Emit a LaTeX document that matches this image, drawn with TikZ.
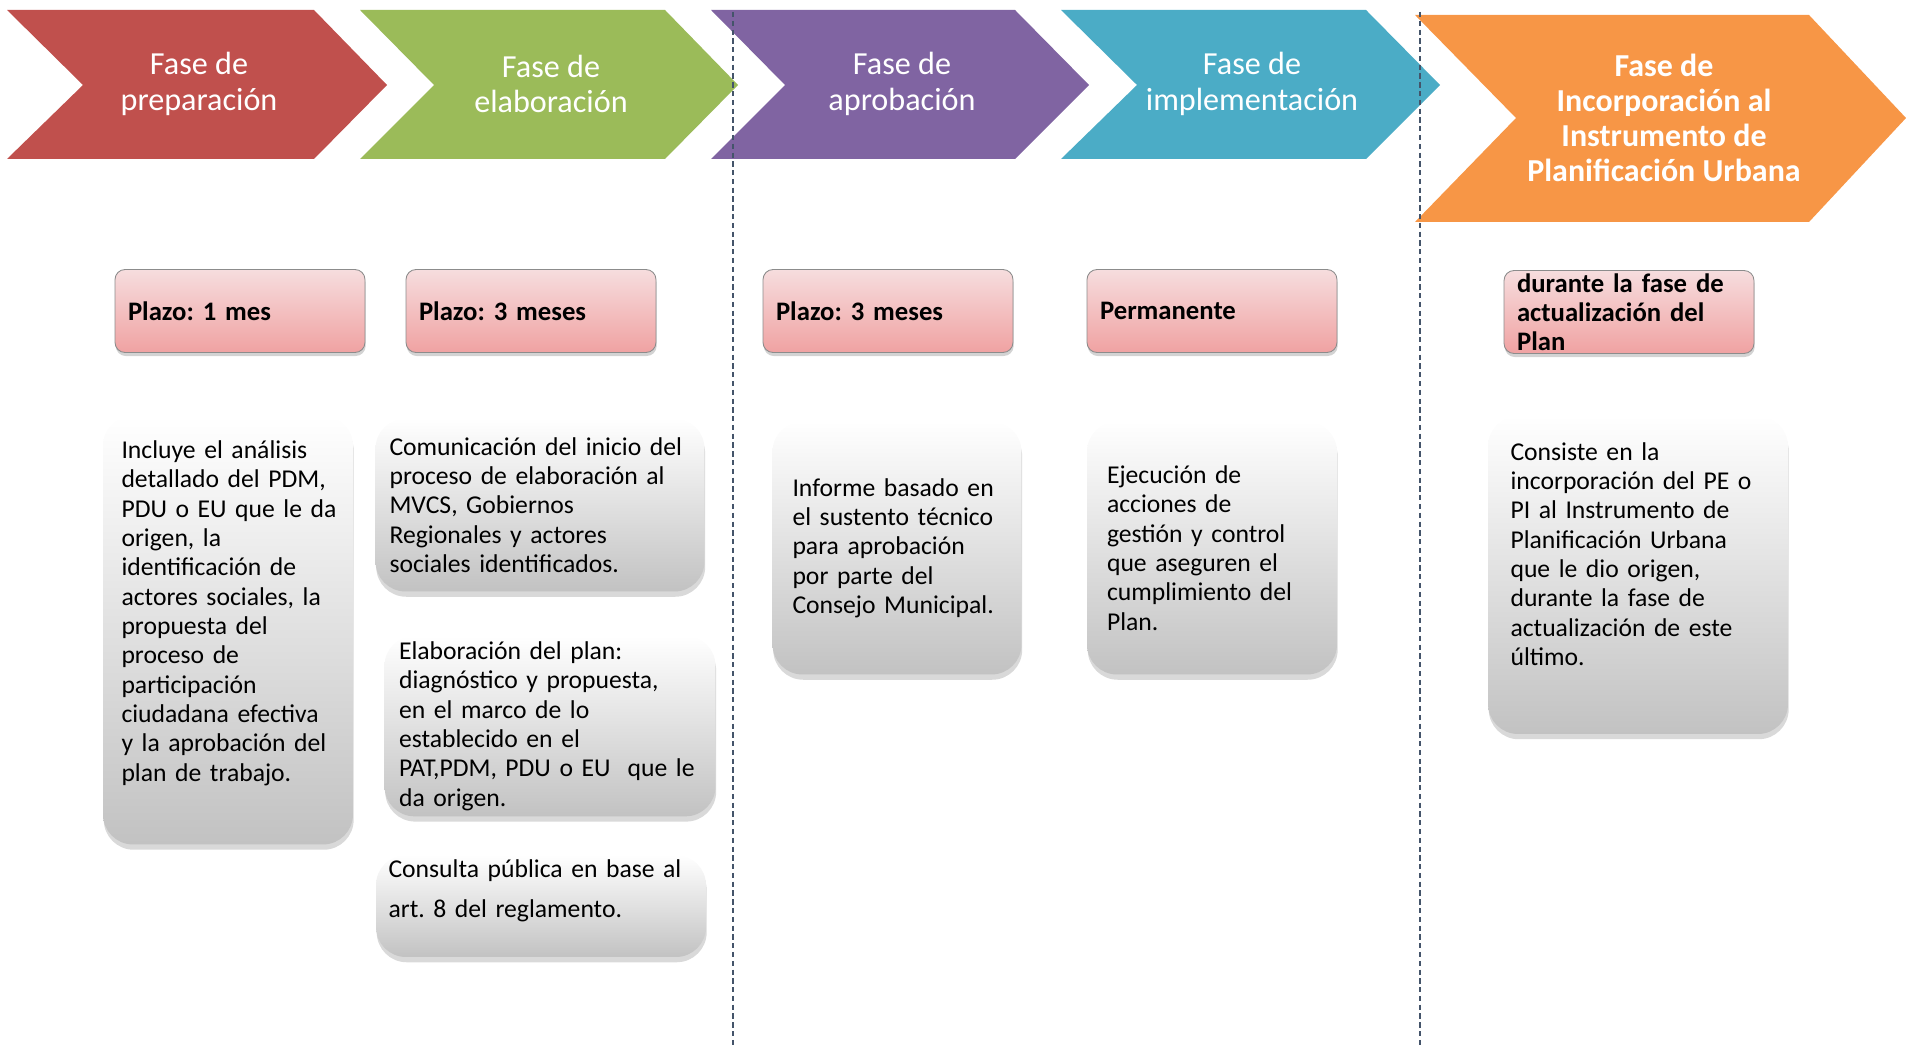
\documentclass[tikz,border=0pt]{standalone}
\usepackage{fontspec}
\setmainfont{Carlito}
\frenchspacing
\usetikzlibrary{shadows}

\definecolor{faseRoja}{HTML}{C0504D}
\definecolor{faseVerde}{HTML}{9BBB59}
\definecolor{faseMorada}{HTML}{8064A2}
\definecolor{faseAzul}{HTML}{4BACC6}
\definecolor{faseNaranja}{HTML}{F79646}
\definecolor{plazoArriba}{HTML}{F6DDDE}
\definecolor{plazoAbajo}{HTML}{F0A2A2}
\definecolor{cajaAbajo}{HTML}{C2C2C2}
\definecolor{limiteGris}{HTML}{44546A}

\tikzset{
  fasetxt/.style={text=white, align=center, font=\fontsize{18.3}{20}\selectfont},
  plazo/.style={draw=black!45, line width=0.5pt, rounded corners=0.2cm,
    top color=plazoArriba, bottom color=plazoAbajo,
    drop shadow={shadow xshift=0.4pt, shadow yshift=-2pt, opacity=.35},
    font=\fontsize{15.2}{16.5}\selectfont\bfseries, align=left,
    minimum width=5cm, minimum height=1.66cm, inner xsep=0.26cm, inner ysep=0pt,
    text width=4.48cm},
  detalle/.style={rounded corners=0.6cm, top color=white, bottom color=cajaAbajo,
    drop shadow={shadow xshift=0.4pt, shadow yshift=-3pt, opacity=.3},
    font=\fontsize{14.6}{16.7}\selectfont, align=left, inner xsep=0.35cm},
  detalletxt/.style={font=\fontsize{14.6}{16.7}\selectfont, align=left, inner sep=0pt},
  limite/.style={draw=limiteGris, line width=0.8pt, dash pattern=on 3pt off 2pt}
}

\begin{document}
\begin{tikzpicture}[x=0.02cm, y=-0.02cm]
\useasboundingbox (0,0) rectangle (1906,1047);

% fases
\fill[faseRoja] (7,10) -- (314,10) -- (387,85) -- (314,159) -- (7,159) -- (83,85) -- cycle;
\fill[faseVerde] (360,10) -- (665,10) -- (738,85) -- (665,159) -- (360,159) -- (434,85) -- cycle;
\fill[faseMorada] (711,10) -- (1015,10) -- (1089,85) -- (1015,159) -- (711,159) -- (785,85) -- cycle;
\fill[faseAzul] (1061,10) -- (1366,10) -- (1440,85) -- (1366,159) -- (1061,159) -- (1137,85) -- cycle;
\fill[faseNaranja] (1415,15) -- (1809,15) -- (1906,118) -- (1809,222) -- (1415,222) -- (1516,118) -- cycle;

\node[fasetxt] (prep) at (199,84) {Fase de\\preparación};
\node[fasetxt] (elab) at (551,84) {Fase de\\elaboración};
\node[fasetxt] (aprob) at (902,84) {Fase de\\aprobación};
\node[fasetxt] (impl) at (1252,84) {Fase de\\implementación};
\node[fasetxt, font=\fontsize{18.2}{20}\selectfont\bfseries] (incorp) at (1664,118)
  {Fase de\\Incorporación al\\Instrumento de\\Planificación Urbana};

% plazos
\node[plazo] (plazoPrep) at (240,311) {Plazo: 1 mes};
\node[plazo] (plazoElab) at (531,311) {Plazo: 3 meses};
\node[plazo] (plazoAprob) at (888,311) {Plazo: 3 meses};
\node[plazo] (plazoImpl) at (1212,311) {Permanente};
\node[plazo] (plazoIncorp) at (1629,312) {durante la fase de\\actualización del\\Plan};

% descripciones
\node[detalle, minimum width=5cm, minimum height=8.58cm] (descPrep) at (228,630) {};
\node[detalletxt, text width=4.3cm] (txtPrep) at ([xshift=0.02cm, yshift=0.34cm]descPrep.center)
  {Incluye el análisis\\detallado del PDM,\\PDU o EU que le da\\origen, la\\identificación de\\actores sociales, la\\propuesta del\\proceso de\\participación\\ciudadana efectiva\\y la aprobación del\\plan de trabajo.};
\node[detalle, minimum width=6.58cm, minimum height=3.46cm, text width=6.02cm, inner xsep=0.28cm] (descCom) at (540,505)
  {Comunicación del inicio del\\proceso de elaboración al\\MVCS, Gobiernos\\Regionales y actores\\sociales identificados.};
\node[detalle, minimum width=6.62cm, minimum height=3.48cm, text width=6.04cm, inner xsep=0.29cm] (descPlan) at (550,726)
  {Elaboración del plan:\\diagnóstico y propuesta,\\en el marco de lo\\establecido en el\\PAT,PDM,~PDU~o~EU\ \ que~le\\da origen.};
\node[detalle, minimum width=6.6cm, minimum height=2.04cm] (descConsulta) at (541,906) {};
\node[detalletxt, text width=6.1cm, font=\fontsize{14.6}{22.8}\selectfont] (txtConsulta)
  at ([yshift=0.3cm]descConsulta.center)
  {Consulta pública en base al\\art. 8 del reglamento.};
\node[detalle, minimum width=4.98cm, minimum height=5.06cm, text width=4.18cm, inner xsep=0.4cm] (descAprob) at (897,548)
  {Informe basado en\\el sustento técnico\\para aprobación\\por parte del\\Consejo Municipal.};
\node[detalle, minimum width=5cm, minimum height=5.06cm, text width=4.2cm, inner xsep=0.4cm] (descImpl) at (1212,548)
  {Ejecución de\\acciones de\\gestión y control\\que aseguren el\\cumplimiento del\\Plan.};
\node[detalle, minimum width=6cm, minimum height=6.36cm] (descIncorp) at (1638,575) {};
\node[detalletxt, text width=5.1cm] (txtIncorp) at ([yshift=0.42cm]descIncorp.center)
  {Consiste en la\\incorporación del PE o\\PI al Instrumento de\\Planificación Urbana\\que le dio origen,\\durante la fase de\\actualización de este\\último.};

% limites entre etapas
\coordinate (limA1) at (733,12);
\coordinate (limA2) at (733,1047);
\coordinate (limB1) at (1420,12);
\coordinate (limB2) at (1420,1047);
\draw[limite] (limA1) -- (limA2);
\draw[limite] (limB1) -- (limB2);
\end{tikzpicture}
\end{document}
